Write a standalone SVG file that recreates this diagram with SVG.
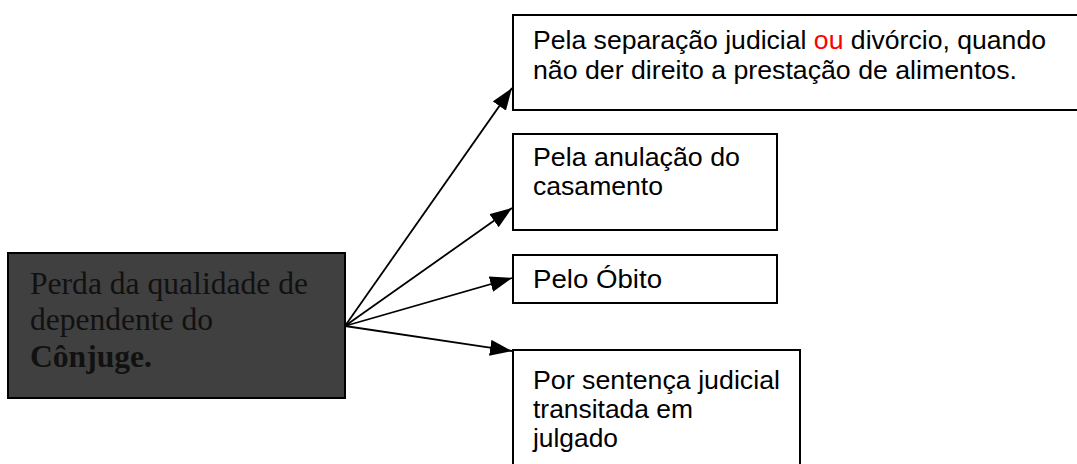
<svg xmlns="http://www.w3.org/2000/svg" width="1077" height="464" viewBox="0 0 1077 464">
<defs>
<style>
.box{fill:#fff;stroke:#000;stroke-width:2}
.src{fill:#404040;stroke:#000;stroke-width:2}
.t{font-family:"Liberation Sans",Arial,sans-serif;font-size:26px;fill:#000}
.s{font-family:"Liberation Serif","Times New Roman",serif;font-size:31px;fill:#111}
.conn{stroke:#000;stroke-width:1.8;fill:none}
</style>
<marker id="ah" markerUnits="userSpaceOnUse" markerWidth="22" markerHeight="16" refX="22" refY="8" orient="auto">
<path d="M0,0 L22,8 L0,16 z" fill="#000"/>
</marker>
</defs>
<rect width="1077" height="464" fill="#fff"/>
<g id="connectors">
<line class="conn" x1="345" y1="326" x2="512" y2="88" marker-end="url(#ah)"/>
<line class="conn" x1="345" y1="326" x2="512" y2="208" marker-end="url(#ah)"/>
<line class="conn" x1="345" y1="326" x2="512" y2="278" marker-end="url(#ah)"/>
<line class="conn" x1="345" y1="326" x2="512" y2="351" marker-end="url(#ah)"/>
</g>
<g id="source">
<rect class="src" x="8" y="253" width="337" height="145"/>
<text class="s" x="30" y="294" textLength="278" lengthAdjust="spacingAndGlyphs">Perda da qualidade de</text>
<text class="s" x="30" y="330" textLength="183" lengthAdjust="spacingAndGlyphs">dependente do</text>
<text class="s" x="30" y="367" font-weight="bold" textLength="122" lengthAdjust="spacingAndGlyphs">Cônjuge.</text>
</g>
<g id="separacao">
<rect class="box" x="513" y="15" width="570" height="95"/>
<text class="t" x="533" y="49" textLength="513" lengthAdjust="spacingAndGlyphs">Pela separação judicial <tspan fill="#f00">ou</tspan> divórcio, quando</text>
<text class="t" x="533" y="79" textLength="484" lengthAdjust="spacingAndGlyphs">não der direito a prestação de alimentos.</text>
</g>
<g id="anulacao">
<rect class="box" x="513" y="134" width="264" height="96"/>
<text class="t" x="533" y="166" textLength="207" lengthAdjust="spacingAndGlyphs">Pela anulação do</text>
<text class="t" x="533" y="195" textLength="130" lengthAdjust="spacingAndGlyphs">casamento</text>
</g>
<g id="obito">
<rect class="box" x="513" y="255" width="264" height="48"/>
<text class="t" x="533" y="288" textLength="129" lengthAdjust="spacingAndGlyphs">Pelo Óbito</text>
</g>
<g id="sentenca">
<rect class="box" x="513" y="350" width="287" height="130"/>
<text class="t" x="533" y="389" textLength="247" lengthAdjust="spacingAndGlyphs">Por sentença judicial</text>
<text class="t" x="533" y="418" textLength="160" lengthAdjust="spacingAndGlyphs">transitada em</text>
<text class="t" x="533" y="447" textLength="85" lengthAdjust="spacingAndGlyphs">julgado</text>
</g>
</svg>
